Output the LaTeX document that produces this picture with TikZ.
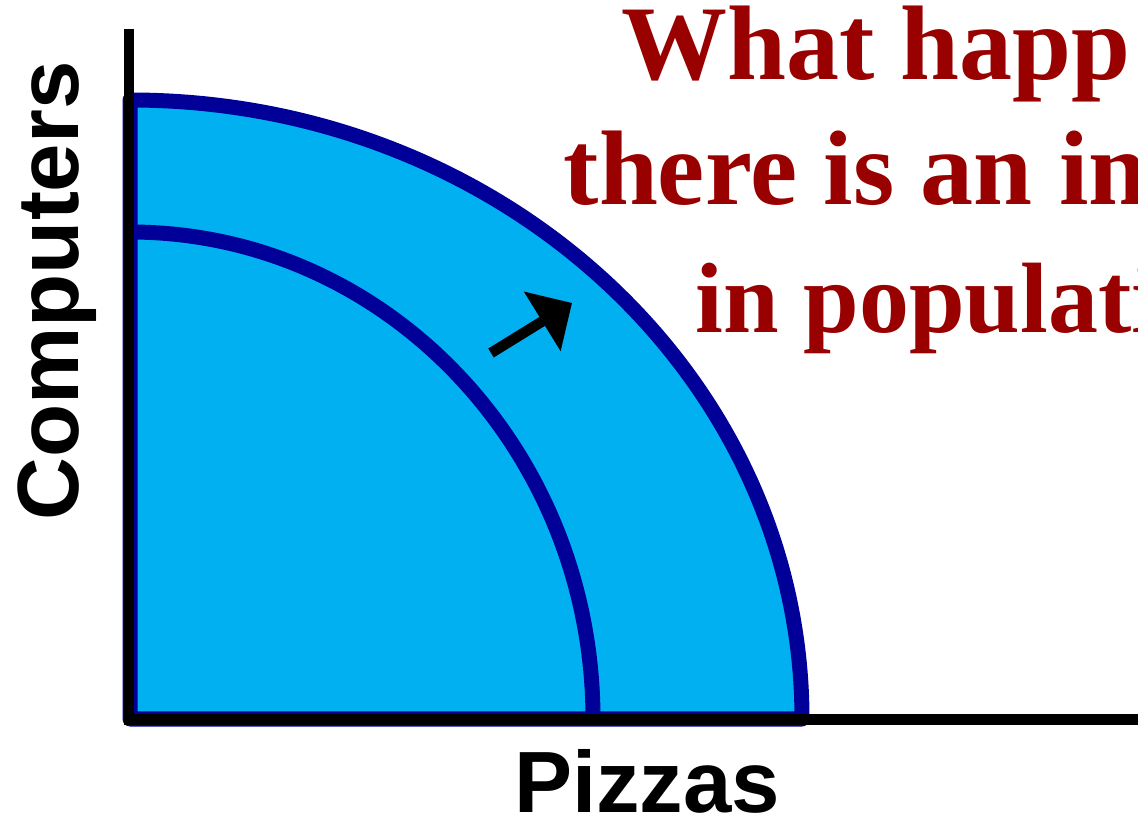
\documentclass[tikz,border=0pt]{standalone}
\usepackage{fontspec}
\setmainfont{Liberation Serif}
\newfontfamily\labelfont{Liberation Sans}
\usetikzlibrary{arrows.meta}
\definecolor{ppfblue}{HTML}{00B0F0}
\definecolor{ppfnavy}{HTML}{000099}
\definecolor{qred}{HTML}{990000}
\tikzset{
  axisline/.style={line width=10.5pt, black},
  ppfcurve/.style={line width=15pt, draw=ppfnavy, line join=round},
  shiftarrow/.style={-{Triangle[length=35pt, width=68pt]}, line width=10.5pt, black},
  question/.style={anchor=base west, inner sep=0pt, text=qred, font=\fontsize{106}{127}\selectfont\bfseries},
  axislabel/.style={inner sep=0pt, font=\labelfont\fontsize{87}{104}\selectfont\bfseries},
}

\begin{document}
\begin{tikzpicture}[x=1pt, y=1pt]
  \useasboundingbox (0,0) rectangle (1138,817);
  \clip (0,0) rectangle (1138,817);
  % frontiers
  \filldraw[ppfcurve, fill=ppfblue] (130,98) -- (130,717)
    arc[start angle=90, end angle=0, x radius=672pt, y radius=619pt] -- cycle;
  \draw[ppfcurve] (130,585) arc[start angle=90, end angle=0, x radius=463pt, y radius=487pt];
  % axes
  \coordinate (origin) at (129,97.5);
  \coordinate (ytop) at (129,788);
  \coordinate (xend) at (1138,97.5);
  \draw[axisline] (ytop) -- (origin) -- (xend);
  % shift
  \coordinate (tail) at (491,464);
  \coordinate (tip) at (572,514);
  \draw[shiftarrow] (tail) -- (tip);
  % labels
  \node[question] (q1) at (621,737) {What happ};
  \node[question] (q2) at (563.5,612) {there is an in};
  \node[question, font=\fontsize{100}{120}\selectfont\bfseries] (q3) at (695,484) {in populati};
  \node[axislabel, anchor=base] (pizzas) at (647,5) {Pizzas};
  \node[axislabel, rotate=90, anchor=base] (computers) at (78,526) {Computers};
\end{tikzpicture}
\end{document}
